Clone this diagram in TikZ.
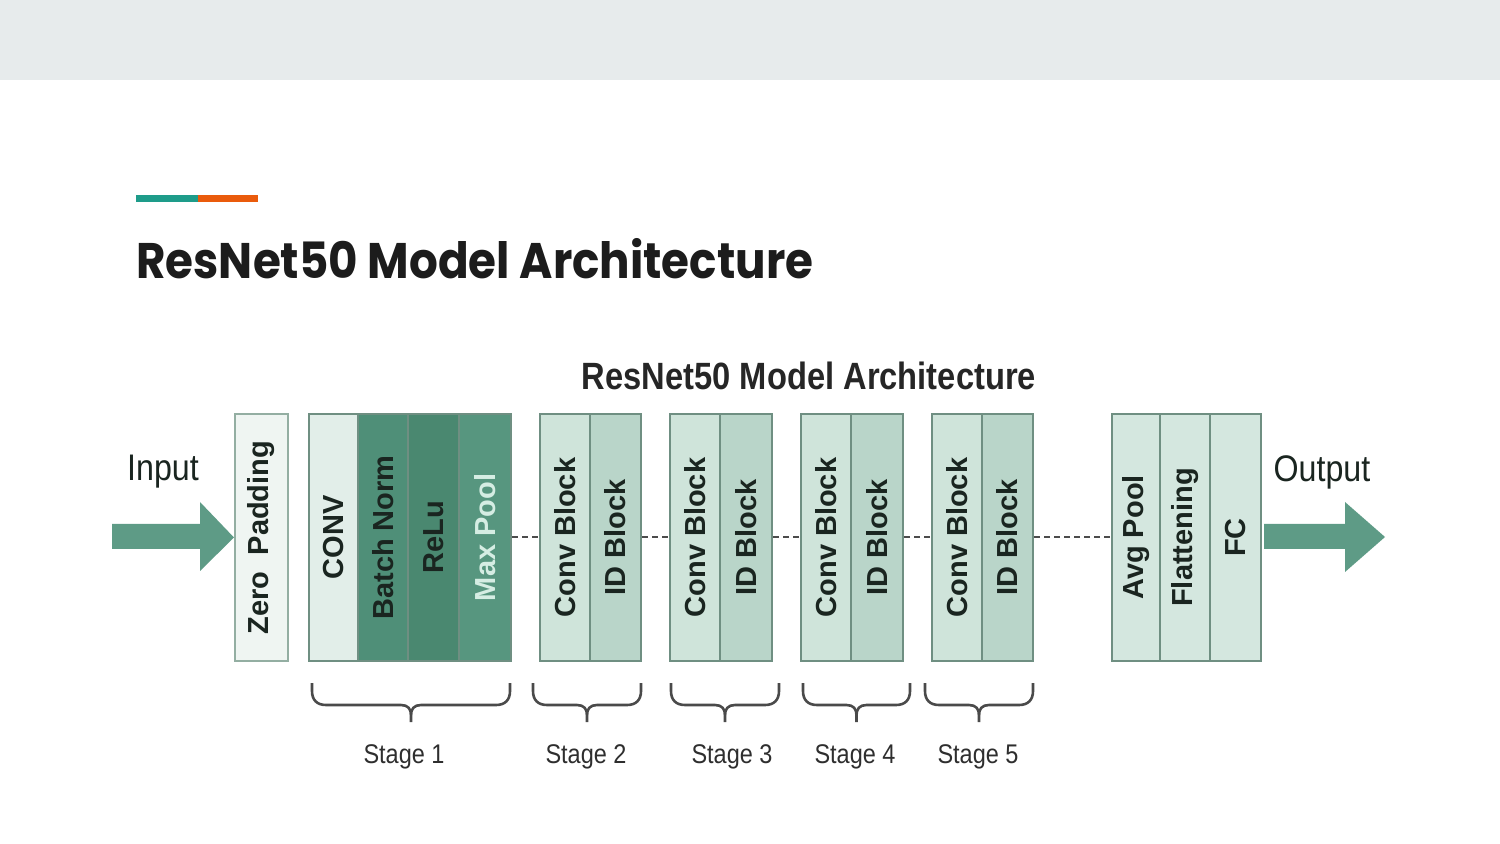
\documentclass[tikz,border=0pt]{standalone}
\usepackage{fontspec}
\setmainfont{Liberation Sans}
\newfontfamily\titlefont{Poppins}
\definecolor{band}{HTML}{E7EBEC}
\definecolor{accteal}{HTML}{1E9C8A}
\definecolor{accorange}{HTML}{EA5B0C}
\definecolor{titlecol}{HTML}{1C1C1C}
\definecolor{edgecol}{HTML}{6F8F82}
\definecolor{zpedge}{HTML}{93AEA2}
\definecolor{zpfill}{HTML}{EFF5F2}
\definecolor{convfill}{HTML}{E2EEE9}
\definecolor{bnfill}{HTML}{4F8F78}
\definecolor{relufill}{HTML}{4A8870}
\definecolor{mpfill}{HTML}{57967F}
\definecolor{cbfill}{HTML}{CFE4DA}
\definecolor{idfill}{HTML}{B9D5C9}
\definecolor{endfill}{HTML}{D4E7DF}
\definecolor{arrowcol}{HTML}{5E9B86}
\definecolor{txtdark}{HTML}{1A2520}
\definecolor{mptxt}{HTML}{D5EDE3}
\definecolor{bracecol}{HTML}{4A4A4A}
\definecolor{lblcol}{HTML}{2E2E2E}
\newcommand\stagebrace[2]{%
  \pgfmathsetmacro\bxm{(#1+#2)/2}%
  \draw[bracecol, line width=1.3pt, line join=round]
    (#1,683) -- (#1,691) .. controls (#1,700) and ({#1+5},705) .. ({#1+14},705)
    -- ({\bxm-10},705) .. controls ({\bxm-3},705) and (\bxm,709) .. (\bxm,715) -- (\bxm,722);
  \draw[bracecol, line width=1.3pt, line join=round]
    (#2,683) -- (#2,691) .. controls (#2,700) and ({#2-5},705) .. ({#2-14},705)
    -- ({\bxm+10},705) .. controls ({\bxm+3},705) and (\bxm,709) .. (\bxm,715);
}
\begin{document}
\begin{tikzpicture}[x=0.5pt,y=-0.5pt,
  blk/.style={draw=edgecol, line width=1pt, minimum height=123.5pt, inner sep=0pt, anchor=north west},
  vtxt/.style={rotate=90, font=\fontsize{14.5}{16}\selectfont\bfseries, text=txtdark, inner sep=0pt},
  stagelbl/.style={font=\fontsize{13.5}{15}\selectfont, text=lblcol, xscale=0.87, inner sep=0pt},
  iolbl/.style={font=\fontsize{18.5}{20}\selectfont, text=txtdark, xscale=0.87, inner sep=0pt},
  dashlink/.style={draw=black!70, line width=1pt, dash pattern=on 3pt off 2pt}]
\useasboundingbox (0,0) rectangle (1500,844);
\fill[band] (0,0) rectangle (1500,80);
\fill[accteal] (136,195) rectangle (198,202);
\fill[accorange] (198,195) rectangle (258,202);
\node[anchor=base west, inner sep=0pt, text=titlecol, xscale=0.905,
      font=\titlefont\bfseries\fontsize{25}{30}\selectfont] (title) at (136,279) {ResNet50 Model Architecture};

\node[font=\fontsize{19}{22}\selectfont\bfseries, xscale=0.86, text=black!85, inner sep=0pt] (dtitle) at (809,376) {ResNet50 Model Architecture};

% blocks
\node[blk, fill=zpfill, draw=zpedge, minimum width=26.5pt] (zp) at (234,413) {};
\node[blk, fill=convfill, minimum width=24.5pt] (conv) at (308,413) {};
\node[blk, fill=bnfill, minimum width=25pt] (bn) at (357,413) {};
\node[blk, fill=relufill, minimum width=25.5pt] (relu) at (407,413) {};
\node[blk, fill=mpfill, minimum width=26pt] (mp) at (458,413) {};
\node[blk, fill=cbfill, minimum width=25pt] (cb2) at (539,413) {};
\node[blk, fill=idfill, minimum width=25.5pt] (id2) at (589,413) {};
\node[blk, fill=cbfill, minimum width=25pt] (cb3) at (669,413) {};
\node[blk, fill=idfill, minimum width=26pt] (id3) at (719,413) {};
\node[blk, fill=cbfill, minimum width=25pt] (cb4) at (800,413) {};
\node[blk, fill=idfill, minimum width=26pt] (id4) at (850,413) {};
\node[blk, fill=cbfill, minimum width=25pt] (cb5) at (931,413) {};
\node[blk, fill=idfill, minimum width=25.5pt] (id5) at (981,413) {};
\node[blk, fill=endfill, minimum width=24pt] (avg) at (1111,413) {};
\node[blk, fill=endfill, minimum width=25pt] (flat) at (1159,413) {};
\node[blk, fill=endfill, minimum width=25.5pt] (fc) at (1209,413) {};

% block texts
\node[vtxt] (tzp) at (zp.center) {Zero\ \ Padding};
\node[vtxt] (tconv) at (conv.center) {CONV};
\node[vtxt] (tbn) at (bn.center) {Batch Norm};
\node[vtxt] (trelu) at (relu.center) {ReLu};
\node[vtxt, text=mptxt] (tmp) at (mp.center) {Max Pool};
\node[vtxt] (tcb2) at (cb2.center) {Conv Block};
\node[vtxt] (tid2) at (id2.center) {ID Block};
\node[vtxt] (tcb3) at (cb3.center) {Conv Block};
\node[vtxt] (tid3) at (id3.center) {ID Block};
\node[vtxt] (tcb4) at (cb4.center) {Conv Block};
\node[vtxt] (tid4) at (id4.center) {ID Block};
\node[vtxt] (tcb5) at (cb5.center) {Conv Block};
\node[vtxt] (tid5) at (id5.center) {ID Block};
\node[vtxt] (tavg) at (avg.center) {Avg Pool};
\node[vtxt] (tflat) at (flat.center) {Flattening};
\node[vtxt] (tfc) at (fc.center) {FC};

% dashed links
\draw[dashlink] (mp.east) -- (cb2.west);
\draw[dashlink] (id2.east) -- (cb3.west);
\draw[dashlink] (id3.east) -- (cb4.west);
\draw[dashlink] (id4.east) -- (cb5.west);
\draw[dashlink] (id5.east) -- (avg.west);

% input / output arrows
\fill[arrowcol] (112,524) -- (200,524) -- (200,502) -- (zp.west) -- (200,571) -- (200,549) -- (112,549) -- cycle;
\coordinate (outtip) at (1385,537);
\fill[arrowcol] (1264,524) -- (1345,524) -- (1345,502) -- (outtip) -- (1345,572) -- (1345,549) -- (1264,549) -- cycle;
\node[iolbl] (inlbl) at (163,472) {Input};
\node[iolbl] (outlbl) at (1322,472) {Output};

% braces and stage labels
\stagebrace{312}{510}
\stagebrace{533}{641}
\stagebrace{671}{779}
\stagebrace{803}{910}
\stagebrace{925}{1033}
\node[stagelbl] (s1) at (404,757) {Stage 1};
\node[stagelbl] (s2) at (586,757) {Stage 2};
\node[stagelbl] (s3) at (732,757) {Stage 3};
\node[stagelbl] (s4) at (855,757) {Stage 4};
\node[stagelbl] (s5) at (978,757) {Stage 5};
\end{tikzpicture}
\end{document}
